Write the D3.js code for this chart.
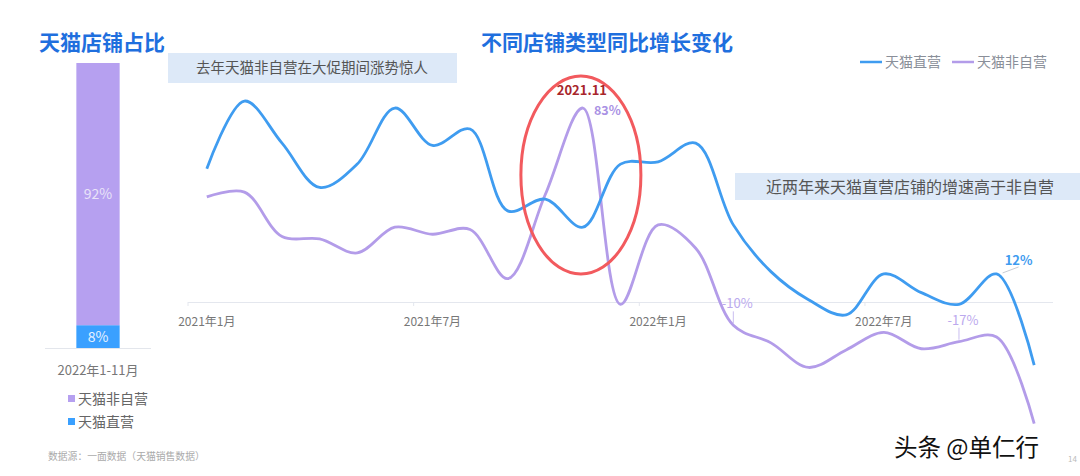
<!DOCTYPE html>
<html>
<head>
<meta charset="utf-8">
<script src="https://cdn.jsdelivr.net/npm/d3@7"></script>
<style>
  html, body { margin: 0; padding: 0; background: #ffffff; }
  svg { display: block; font-family: "Noto Sans CJK SC", "Noto Sans", sans-serif; }
</style>
</head>
<body>
<svg id="chart" width="1080" height="476"></svg>
<script>
// ---------- data ----------
const months = ["2021-01","2021-02","2021-03","2021-04","2021-05","2021-06","2021-07","2021-08","2021-09","2021-10","2021-11","2021-12",
                "2022-01","2022-02","2022-03","2022-04","2022-05","2022-06","2022-07","2022-08","2022-09","2022-10","2022-11"];
const directValues =    [57, 86, 68, 49, 59, 83, 67, 74, 39, 44, 32, 59, 60, 68, 33, 13, 1, -5.5, 12, 4, -1, 12, -27];
const nonDirectValues = [45, 47, 28, 27, 21, 32, 29, 31, 10, 46, 83, -1, 33, 23, -10, -17.5, -28, -20.5, -13, -20, -17, -15, -52];
const tickMonths = ["2021-01","2021-07","2022-01","2022-07"];
const tickLabels = ["2021年1月","2021年7月","2022年1月","2022年7月"];
const seriesNames = ["天猫直营","天猫非自营"];
const shareCategory = "2022年1-11月";
const shareNames = ["天猫非自营","天猫直营"];
const shareValues = [92, 8];
const pointLabels = [
  {series: 1, month: "2021-11", text: "83%"},
  {series: 1, month: "2022-03", text: "-10%"},
  {series: 1, month: "2022-09", text: "-17%"},
  {series: 0, month: "2022-10", text: "12%"}
];

// ---------- styles ----------
const BLUE = "#3f9cf0", PURPLE = "#b39ce9", BAR_PURPLE = "#b6a0f0", BAR_BLUE = "#3aa0ff";
const TITLE = "#1f6fde";

const svg = d3.select("#chart");

// ---------- titles ----------
svg.append("text").attr("x", 39).attr("y", 50).attr("font-size", 21).attr("font-weight", 700)
  .attr("fill", TITLE).text("天猫店铺占比");
svg.append("text").attr("x", 607).attr("y", 50).attr("text-anchor", "middle").attr("font-size", 21)
  .attr("font-weight", 700).attr("fill", TITLE).text("不同店铺类型同比增长变化");

// ---------- left stacked bar ----------
const barY = d3.scaleLinear().domain([0, 100]).range([348, 63]);
const barX = d3.scaleBand().domain([shareCategory]).range([45, 151]).paddingInner(0.42).paddingOuter(0.42);
const stackData = [{cat: shareCategory, [shareNames[0]]: shareValues[0], [shareNames[1]]: shareValues[1]}];
const stack = d3.stack().keys([shareNames[1], shareNames[0]])(stackData);
const barColors = {[shareNames[0]]: BAR_PURPLE, [shareNames[1]]: BAR_BLUE};
stack.forEach(layer => {
  layer.forEach(d => {
    svg.append("rect")
      .attr("x", barX(d.data.cat)).attr("width", barX.bandwidth())
      .attr("y", barY(d[1])).attr("height", barY(d[0]) - barY(d[1]))
      .attr("fill", barColors[layer.key]);
    svg.append("text")
      .attr("x", barX(d.data.cat) + barX.bandwidth() / 2)
      .attr("y", (barY(d[0]) + barY(d[1])) / 2 + 5)
      .attr("text-anchor", "middle").attr("font-size", 14)
      .attr("fill", layer.key === shareNames[0] ? "#e9e3f8" : "#e6f2ff")
      .text((d[1] - d[0]) + "%");
  });
});
svg.append("line").attr("x1", 45).attr("x2", 151).attr("y1", 348.5).attr("y2", 348.5)
  .attr("stroke", "#e3e6ec").attr("stroke-width", 1);
svg.append("text").attr("x", 98).attr("y", 375).attr("text-anchor", "middle").attr("font-size", 13)
  .attr("fill", "#777").text(shareCategory);
shareNames.forEach((n, i) => {
  const yy = 399 + i * 23;
  svg.append("rect").attr("x", 68).attr("y", yy - 4).attr("width", 7).attr("height", 7).attr("fill", barColors[n]);
  svg.append("text").attr("x", 78).attr("y", yy + 5).attr("font-size", 14).attr("fill", "#666").text(n);
});

// ---------- annotation boxes ----------
svg.append("rect").attr("x", 168).attr("y", 53).attr("width", 289).attr("height", 30).attr("fill", "#dde9f8");
svg.append("text").attr("x", 312).attr("y", 73).attr("text-anchor", "middle").attr("font-size", 14.5)
  .attr("fill", "#555").text("去年天猫非自营在大促期间涨势惊人");
svg.append("rect").attr("x", 735).attr("y", 173).attr("width", 345).attr("height", 27).attr("fill", "#dde9f8");
svg.append("text").attr("x", 910).attr("y", 193).attr("text-anchor", "middle").attr("font-size", 16)
  .attr("fill", "#555").text("近两年来天猫直营店铺的增速高于非自营");

// ---------- line chart ----------
const x = d3.scaleBand().domain(months).range([188, 1053]);
const cx = m => x(m) + x.bandwidth() / 2;
const y = d3.scaleLinear().domain([-60, 90]).range([302 + 60 * 2.337, 302 - 90 * 2.337]);

// axis line
svg.append("line").attr("x1", 188).attr("x2", 1053).attr("y1", y(0) + 0.5).attr("y2", y(0) + 0.5)
  .attr("stroke", "#e4e7ee").attr("stroke-width", 1);
// boundary ticks
[0, 6, 12, 18].forEach(i => {
  const tx = x(months[i]);
  svg.append("line").attr("x1", tx).attr("x2", tx).attr("y1", y(0)).attr("y2", y(0) + 4)
    .attr("stroke", "#e4e7ee");
});
// axis labels
const axis = d3.axisBottom(x).tickValues(tickMonths).tickSize(0)
  .tickFormat(m => tickLabels[tickMonths.indexOf(m)]);
const gAxis = svg.append("g").attr("transform", `translate(0,${y(0) + 12})`).call(axis);
gAxis.select(".domain").remove();
gAxis.selectAll("text").attr("font-size", 12).attr("fill", "#777")
  .attr("font-family", "'Noto Sans CJK SC', sans-serif");

const line = d3.line().x((d, i) => cx(months[i])).y(d => y(d)).curve(d3.curveCatmullRom.alpha(0.5));
svg.append("path").datum(nonDirectValues).attr("d", line).attr("fill", "none")
  .attr("stroke", PURPLE).attr("stroke-width", 2.8);
svg.append("path").datum(directValues).attr("d", line).attr("fill", "none")
  .attr("stroke", BLUE).attr("stroke-width", 2.8);

// ---------- legend ----------
const legendItems = [{name: seriesNames[0], color: BLUE, x: 860}, {name: seriesNames[1], color: PURPLE, x: 952}];
legendItems.forEach(l => {
  svg.append("line").attr("x1", l.x).attr("x2", l.x + 22).attr("y1", 62).attr("y2", 62)
    .attr("stroke", l.color).attr("stroke-width", 2.5);
  svg.append("text").attr("x", l.x + 25).attr("y", 67).attr("font-size", 14).attr("fill", "#8a8f99").text(l.name);
});

// ---------- red ellipse highlight ----------
svg.append("ellipse").attr("cx", cx("2021-11") - 2).attr("cy", 175).attr("rx", 60).attr("ry", 99)
  .attr("fill", "none").attr("stroke", "#f25a5e").attr("stroke-width", 3);
svg.append("text").attr("x", cx("2021-11") - 1).attr("y", 95).attr("text-anchor", "middle")
  .attr("font-size", 13).attr("font-weight", 700).attr("fill", "#a8262b").text("2021.11");

// ---------- point labels ----------
const seriesVals = [directValues, nonDirectValues];
pointLabels.forEach(p => {
  const px = cx(p.month), py = y(seriesVals[p.series][months.indexOf(p.month)]);
  if (p.text === "83%") {
    svg.append("text").attr("x", px + 11).attr("y", py + 7).attr("font-size", 12.5).attr("font-weight", 700)
      .attr("fill", "#a991e4").text(p.text);
  } else if (p.series === 0) {
    svg.append("path").attr("d", `M${px + 6},${py - 1}L${px + 22},${py - 7}`).attr("stroke", "#c8ccd4").attr("fill", "none");
    svg.append("text").attr("x", px + 22).attr("y", py - 9).attr("text-anchor", "middle").attr("font-size", 13)
      .attr("font-weight", 700).attr("fill", "#3f9cf0").text(p.text);
  } else {
    svg.append("line").attr("x1", px).attr("x2", px).attr("y1", py - 2).attr("y2", py - 14)
      .attr("stroke", "#c9bdf0");
    svg.append("text").attr("x", px + 4).attr("y", py - 17).attr("text-anchor", "middle").attr("font-size", 13)
      .attr("fill", "#bba9ee").text(p.text);
  }
});

// ---------- footer ----------
svg.append("text").attr("x", 48).attr("y", 460).attr("font-size", 9.8).attr("fill", "#aaa")
  .text("数据源：一面数据（天猫销售数据）");
svg.append("text").attr("x", 1068).attr("y", 462).attr("font-size", 8).attr("fill", "#bbb").text("14");
svg.append("text").attr("x", 894).attr("y", 456).attr("font-size", 23.5).attr("fill", "#111")
  .attr("stroke", "#fff").attr("stroke-width", 3).attr("paint-order", "stroke")
  .text("头条 @单仁行");
</script>
</body>
</html>
